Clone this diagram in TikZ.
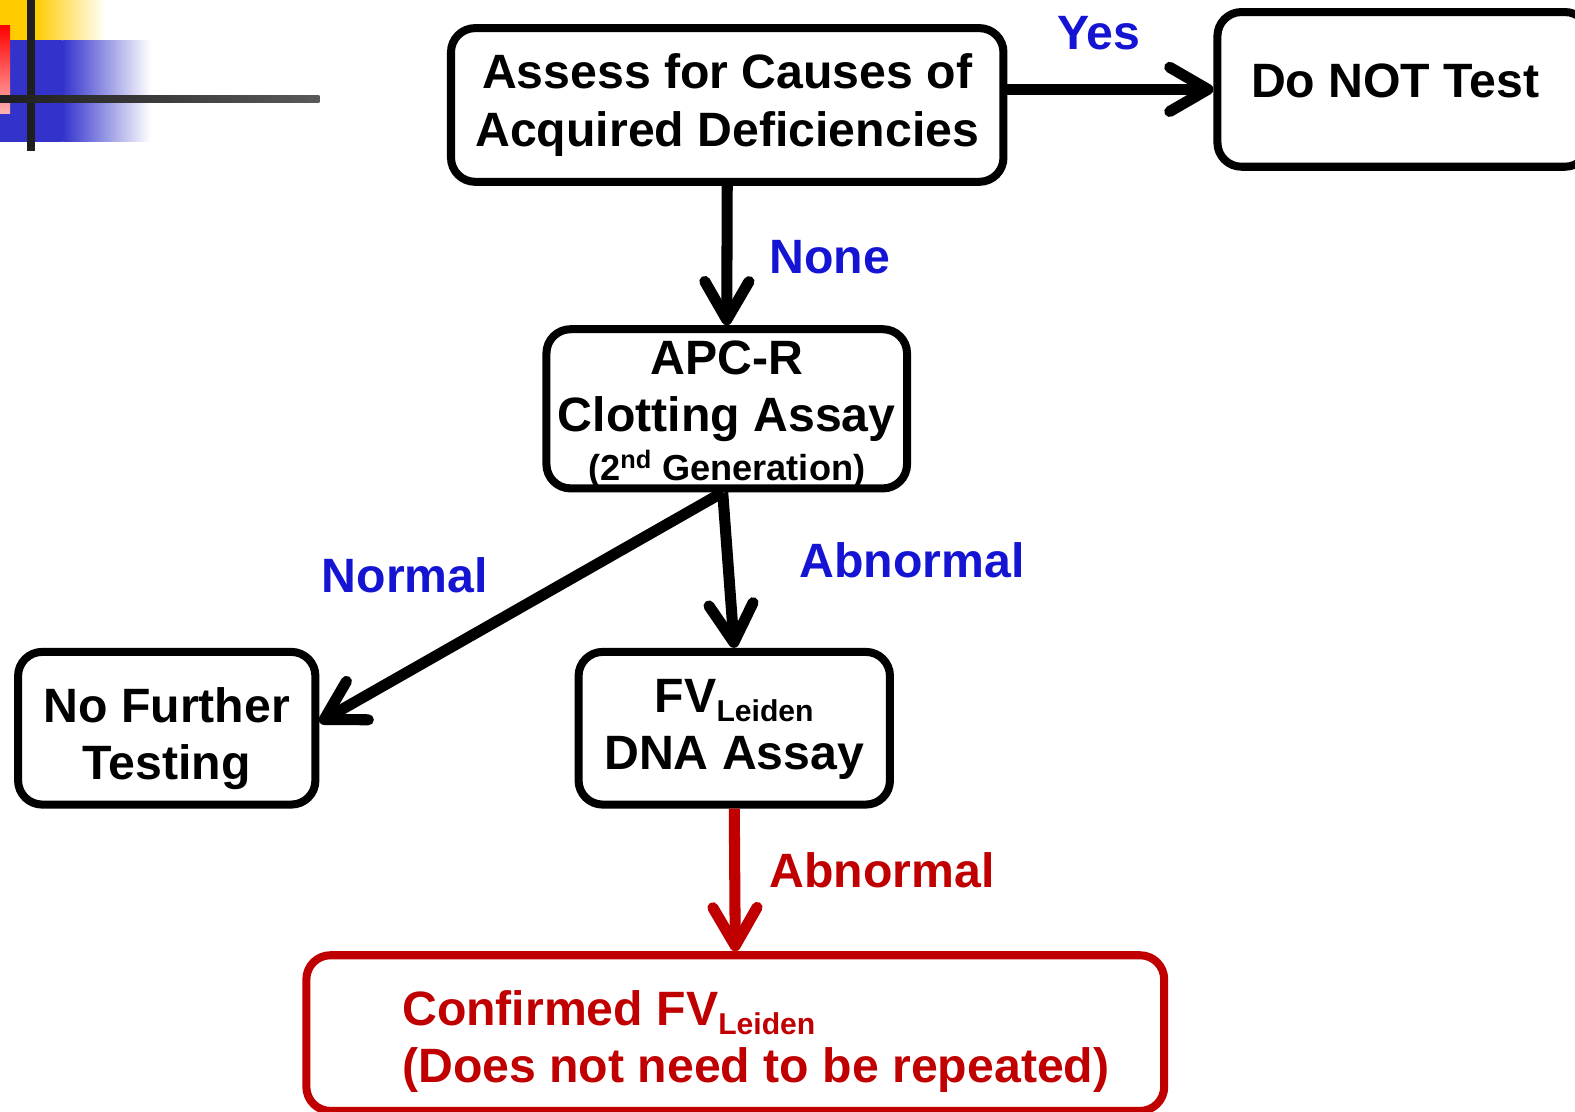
\documentclass[tikz,border=0pt]{standalone}
\usepackage{fontspec}
\setmainfont{Liberation Sans}
\usetikzlibrary{arrows.meta,positioning}
\definecolor{lblue}{RGB}{20,20,210}
\definecolor{lred}{RGB}{192,0,0}
\definecolor{dyellow}{RGB}{255,204,0}
\definecolor{dblue}{RGB}{51,51,204}
\newcommand{\leiden}{\raisebox{-4.5pt}{\fontsize{15}{15}\selectfont Leiden}}

\begin{document}
\begin{tikzpicture}[x=0.5pt, y=-0.5pt,
		box/.style={draw, line width=4pt, rounded corners=12pt, align=center, inner sep=0pt,
			font=\fontsize{24}{28.5}\selectfont\bfseries},
		lbl/.style={font=\fontsize{24}{28}\selectfont\bfseries, text=lblue},
		arr/.style={line width=5.5pt, -{Straight Barb[length=19pt,width=22pt,line cap=round,line join=round]}}]
		\useasboundingbox (0,0) rectangle (1568,1107);
		% corner decoration
		\fill[dyellow] (0,0) rectangle (35,40);
		\shade[left color=dyellow, right color=white] (35,0) rectangle (105,40);
		\fill[dblue] (0,40) rectangle (62,141);
		\shade[left color=dblue, right color=white] (62,40) rectangle (150,141);
		\shade[top color=red, bottom color=red!30] (0,25) rectangle (10,113);
		\fill[black!88] (27,0) rectangle (35,150);
		\shade[left color=black!88, right color=black!65] (0,95) rectangle (318,102);

		% boxes
		\node[box, minimum width=275pt, minimum height=76.5pt] (assess) at (724,104.5) {Assess for Causes of\\Acquired Deficiencies};
		\node[box, minimum width=185pt, minimum height=77pt, text height=17.5pt, text depth=9pt] (donot) at (1397,89) {Do NOT Test\hspace*{8pt}};
		\node[box, minimum width=179.5pt, minimum height=77pt] (apc) at (723.5,407) {\rule{0pt}{22.5pt}APC-R\\Clotting Assay\\[-4pt]{\fontsize{18}{20}\selectfont(2\textsuperscript{nd} Generation)}};
		\node[box, minimum width=148pt, minimum height=76pt] (nofurther) at (166,725) {\rule{0pt}{28pt}No Further\\Testing};
		\node[box, minimum width=155pt, minimum height=76pt] (fvl) at (731,725) {\rule{0pt}{17.5pt}FV\leiden\\DNA Assay};
		\node[box, draw=lred, minimum width=427pt, minimum height=77.5pt] (confirmed) at (732,1028.5) {};
		\node[anchor=west, align=left, text=lred, inner sep=0pt, font=\fontsize{24}{28.5}\selectfont\bfseries] (confirmedtxt) at (400,1037) {Confirmed FV\leiden\\(Does not need to be repeated)};

		% arrows
		\draw[arr] (assess.east |- donot.west) -- (donot.west);
		\draw[arr] (assess.south) -- (apc.north);
		\draw[arr] ([xshift=-2pt]apc.south) -- ([yshift=3pt]nofurther.east);
		\draw[arr] ([xshift=-2pt]apc.south) -- (fvl.north);
		\draw[arr, lred] (fvl.south) -- (confirmed.north);

		% labels
		\node[lbl] (yes) at (1094,33) {Yes};
		\node[lbl] (none) at (826,256) {None};
		\node[lbl] (normal) at (403,573) {Normal};
		\node[lbl] (abn1) at (908,558) {Abnormal};
		\node[lbl, text=lred] (abn2) at (878,866) {Abnormal};
	\end{tikzpicture}
\end{document}
